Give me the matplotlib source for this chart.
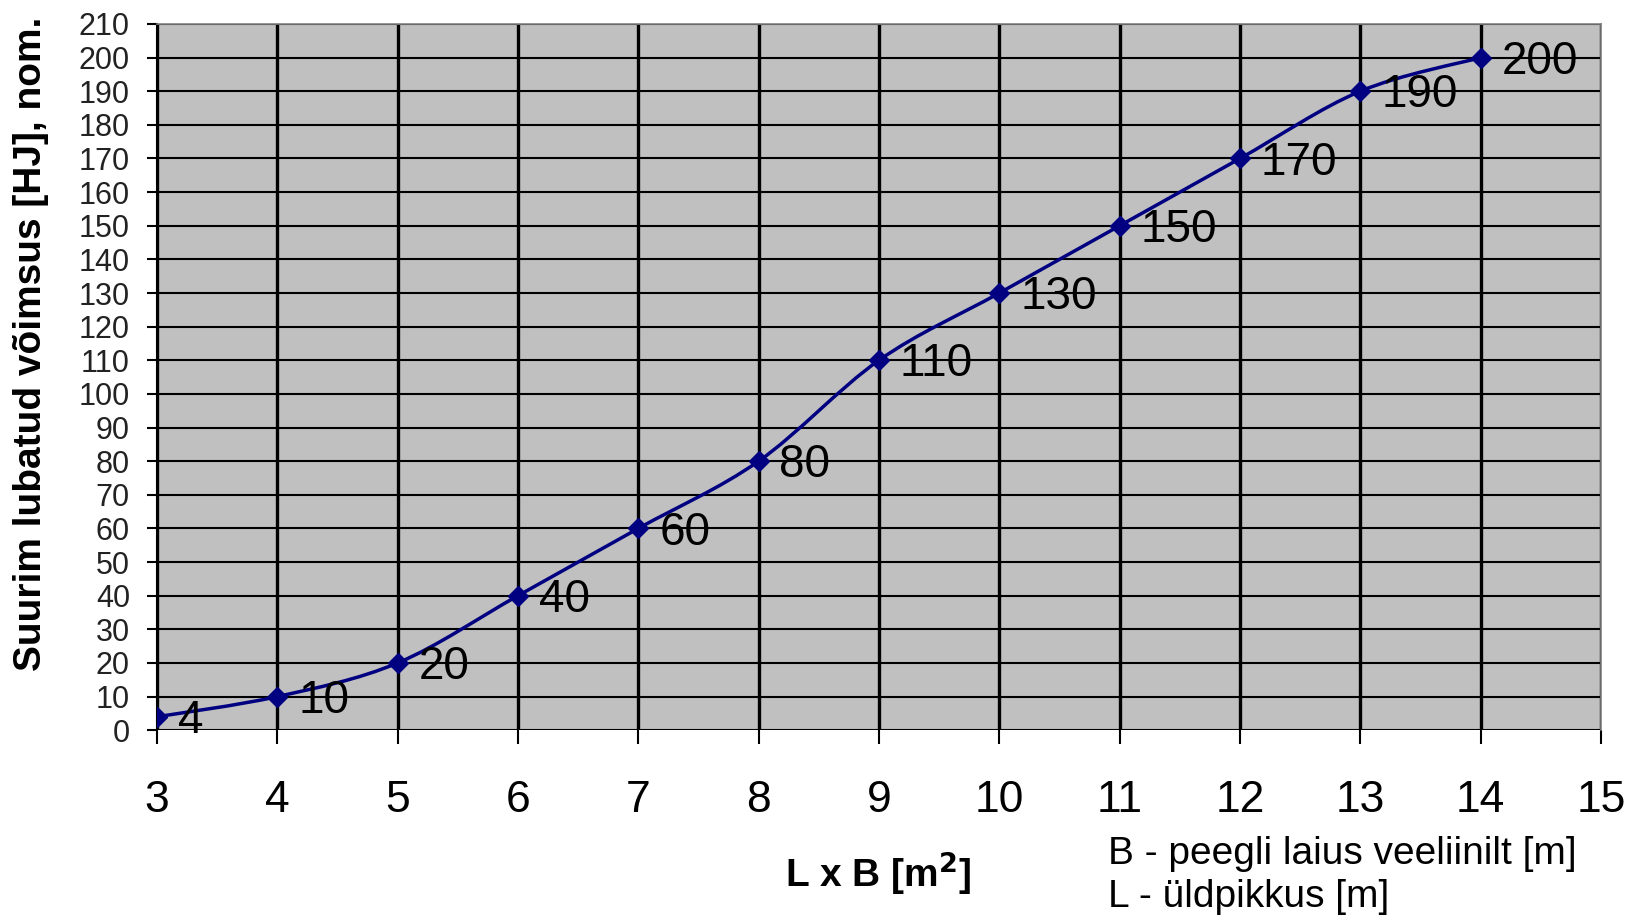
import numpy as np
import matplotlib
matplotlib.use("Agg")
import matplotlib.pyplot as plt
from matplotlib.path import Path
from matplotlib.patches import PathPatch

plt.rcParams['font.family'] = ['Liberation Sans', 'DejaVu Sans']

# data
area = [3, 4, 5, 6, 7, 8, 9, 10, 11, 12, 13, 14]
power = [4, 10, 20, 40, 60, 80, 110, 130, 150, 170, 190, 200]
x_ticks = list(range(3, 16))
y_ticks = list(range(0, 211, 10))

ylabel = 'Suurim lubatud võimsus [HJ], nom.'
xlabel = r'L x B [m$^\mathbf{2}$]'
note_lines = ['B - peegli laius veeliinilt [m]', 'L - üldpikkus [m]']


def smooth_path(xs, ys):
    """Excel-like smoothed line: Catmull-Rom segments as cubic Beziers."""
    pts = np.column_stack([xs, ys]).astype(float)
    n = len(pts)
    verts = [pts[0]]
    codes = [Path.MOVETO]
    for i in range(n - 1):
        p0 = pts[max(i - 1, 0)]
        p1 = pts[i]
        p2 = pts[i + 1]
        p3 = pts[min(i + 2, n - 1)]
        c1 = p1 + (p2 - p0) / 6.0
        c2 = p2 - (p3 - p1) / 6.0
        verts += [c1, c2, p2]
        codes += [Path.CURVE4] * 3
    return Path(verts, codes)


fig = plt.figure(figsize=(16.42, 9.22), dpi=100)
ax = fig.add_axes([0.0956, 0.208, 0.975 - 0.0956, 0.974 - 0.208])
ax.set_facecolor('#c0c0c0')

ax.set_xlim(3, 15)
ax.set_ylim(0, 210)
ax.set_xticks(x_ticks)
ax.set_yticks(y_ticks)

for x in x_ticks:
    ax.axvline(x, color='black', lw=2.4, zorder=1)
for y in y_ticks:
    ax.axhline(y, color='black', lw=1.5, zorder=1)

line_color = '#000080'
ax.add_patch(PathPatch(smooth_path(area, power), facecolor='none',
                       edgecolor=line_color, lw=2.5, zorder=3))
ax.plot(area, power, linestyle='none', marker='D', markersize=10.5,
        color=line_color, zorder=4)

for x, y in zip(area, power):
    ax.annotate(str(y), (x, y), xytext=(15, -3), textcoords='offset points',
                ha='left', va='center', fontsize=33, color='black', zorder=5)

for side in ['top', 'right']:
    ax.spines[side].set_color('#808080')
    ax.spines[side].set_linewidth(1.2)
ax.spines['bottom'].set_visible(False)
ax.spines['left'].set_color('black')
ax.spines['left'].set_linewidth(1.5)

ax.tick_params(axis='x', direction='out', length=10, width=1.5,
               labelsize=32, pad=26)
ax.tick_params(axis='y', direction='out', length=7.5, width=1.5,
               labelsize=22, pad=12, labelcolor='#222222')

fig.text(0.019, 0.627, ylabel, rotation=90, ha='center', va='center',
         fontsize=28, fontweight='bold')
fig.text(0.535, 0.053, xlabel, ha='center', va='center',
         fontsize=28, fontweight='bold')
fig.text(0.675, 0.074, note_lines[0], ha='left', va='center', fontsize=28)
fig.text(0.675, 0.027, note_lines[1], ha='left', va='center', fontsize=28)

fig.savefig('out.png', dpi=100)
